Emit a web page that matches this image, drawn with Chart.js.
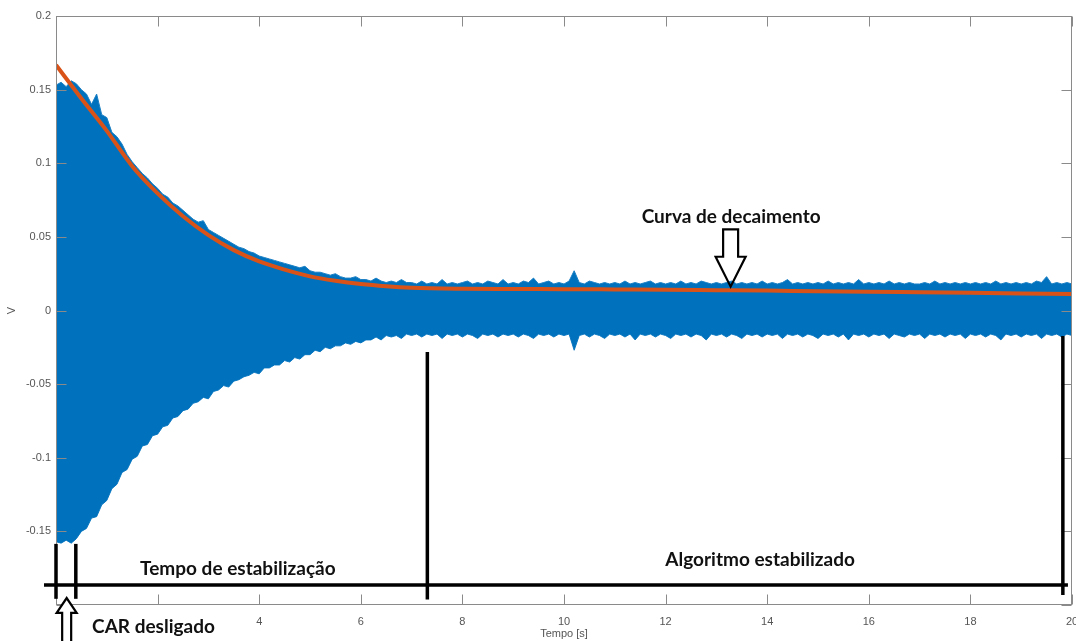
<!DOCTYPE html>
<html><head><meta charset="utf-8">
<script src="https://cdn.jsdelivr.net/npm/chart.js@4.4.1/dist/chart.umd.min.js"></script>
<style>html,body{margin:0;padding:0;background:#fff;} canvas{display:block;}</style>
</head><body>
<canvas id="c" width="1076" height="641"></canvas>
<script>
// ---- data ----
const sampleStep = 0.1; // seconds between envelope samples, t = 0 .. 20
const upperEnvelope = [
 .153,.155,.152,.156,.154,.150,.147,.140,.147,.133,
 .131,.121,.118,.113,.106,.101,.097,.093,.090,.086,
 .083,.079,.077,.073,.071,.068,.065,.062,.060,.061,
 .055,.053,.051,.049,.047,.045,.043,.042,.040,.039,
 .037,.036,.035,.034,.033,.032,.031,.030,.029,.030,
 .027,.026,.026,.025,.024,.025,.023,.022,.022,.023,
 .021,.021,.020,.022,.020,.019,.020,.019,.021,.019,
 .019,.018,.020,.018,.019,.018,.021,.018,.019,.018,
 .019,.020,.018,.019,.018,.020,.019,.018,.021,.018,
 .019,.018,.020,.019,.022,.018,.019,.020,.018,.019,
 .018,.020,.027,.019,.018,.020,.019,.018,.019,.018,
 .019,.018,.020,.018,.019,.018,.019,.020,.018,.019,
 .018,.019,.018,.020,.018,.019,.018,.020,.019,.018,
 .019,.018,.019,.020,.018,.019,.018,.019,.018,.020,
 .018,.019,.018,.019,.021,.018,.019,.018,.019,.018,
 .019,.018,.020,.018,.019,.018,.019,.018,.021,.018,
 .019,.018,.019,.018,.020,.018,.019,.018,.019,.018,
 .018,.019,.018,.020,.018,.019,.018,.019,.018,.019,
 .018,.019,.018,.019,.018,.020,.018,.019,.018,.019,
 .018,.019,.018,.020,.019,.023,.018,.019,.018,.019,
 .018
];
const lowerEnvelope = [
 -.157,-.158,-.156,-.158,-.155,-.150,-.148,-.141,-.140,-.132,
 -.129,-.121,-.118,-.110,-.108,-.101,-.099,-.092,-.091,-.085,
 -.084,-.079,-.078,-.073,-.072,-.068,-.067,-.063,-.062,-.059,
 -.060,-.055,-.054,-.051,-.052,-.048,-.047,-.045,-.044,-.042,
 -.043,-.039,-.039,-.037,-.037,-.034,-.035,-.032,-.033,-.030,
 -.030,-.027,-.028,-.025,-.026,-.024,-.024,-.022,-.023,-.021,
 -.022,-.020,-.020,-.018,-.020,-.017,-.018,-.017,-.019,-.016,
 -.017,-.016,-.018,-.016,-.017,-.016,-.019,-.016,-.017,-.016,
 -.018,-.016,-.017,-.019,-.016,-.017,-.016,-.018,-.016,-.017,
 -.016,-.018,-.016,-.017,-.019,-.016,-.017,-.016,-.018,-.016,
 -.017,-.016,-.027,-.017,-.016,-.018,-.016,-.017,-.019,-.016,
 -.017,-.016,-.018,-.016,-.020,-.016,-.017,-.016,-.018,-.016,
 -.017,-.019,-.016,-.017,-.016,-.018,-.016,-.017,-.020,-.016,
 -.017,-.016,-.018,-.016,-.017,-.019,-.016,-.017,-.016,-.018,
 -.016,-.017,-.016,-.019,-.016,-.017,-.016,-.018,-.016,-.017,
 -.019,-.016,-.017,-.016,-.018,-.016,-.020,-.016,-.017,-.016,
 -.018,-.016,-.017,-.016,-.019,-.016,-.017,-.018,-.016,-.017,
 -.016,-.019,-.016,-.017,-.016,-.018,-.016,-.017,-.016,-.019,
 -.016,-.017,-.016,-.018,-.016,-.017,-.020,-.016,-.017,-.016,
 -.018,-.016,-.017,-.016,-.019,-.016,-.017,-.016,-.018,-.016,
 -.017
];
const decayTimes  = [0,0.5,1,1.5,2,2.5,3,3.5,4,4.5,5,5.5,6,6.5,7,8,9,10,11,12,13,14,15,16,17,18,19,20];
const decayValues = [.1667,.144,.122,.098,.0795,.064,.0512,.041,.0333,.0278,.0232,.0202,.0180,.0165,.0155,.0148,.0146,.0145,.0143,.0141,.0138,.0135,.0131,.0128,.0124,.0120,.0116,.0112];
const xTickLabels = ['', '', '4', '6', '8', '10', '12', '14', '16', '18', '20'];
const yTickLabels = ['', '-0.15', '-0.1', '-0.05', '0', '0.05', '0.1', '0.15', '0.2'];
const xTitle = 'Tempo [s]';
const yTitle = 'V';

// annotation texts / shapes (in data units)
const annotTexts = [
  {text:'Curva de decaimento', t:13.29, v:0.0594, align:'center'},
  {text:'Tempo de estabilização', t:3.58, v:-0.1796, align:'center'},
  {text:'Algoritmo estabilizado', t:13.86, v:-0.1735, align:'center'},
  {text:'CAR desligado', t:0.71, v:-0.219, align:'left'}
];
const annotLines = [
  [-0.236, -0.1864, 19.92, -0.1864],
  [0.0, -0.1585, 0.0, -0.1958],
  [0.39, -0.1585, 0.39, -0.1958],
  [7.31, -0.0282, 7.31, -0.1963],
  [19.82, -0.0173, 19.82, -0.1932]
];
const downArrow = {t:13.28, top:0.0551, headStart:0.0365, tip:0.0162};
const upArrow = {t:0.21, tip:-0.1953, headStart:-0.2054, bottom:-0.226};

const toPts = (arr) => arr.map((v,i)=>({x: +(i*sampleStep).toFixed(2), y: v}));

const framePlugin = {
  id:'frame',
  afterDraw(chart){
    const {ctx, chartArea:a} = chart;
    const xs = chart.scales.x, ys = chart.scales.y;
    ctx.save();
    ctx.strokeStyle = '#8a8a8a';
    ctx.lineWidth = 1;
    const L = Math.round(a.left)+0.5, R = Math.round(a.right)-0.5, T = Math.round(a.top)+0.5, B = Math.round(a.bottom)-0.5;
    ctx.strokeRect(L, T, R-L, B-T);
    ctx.beginPath();
    xs.ticks.forEach(tk => {
      const p = Math.round(xs.getPixelForValue(tk.value))+0.5;
      ctx.moveTo(p, B); ctx.lineTo(p, B-10);
      ctx.moveTo(p, T); ctx.lineTo(p, T+10);
    });
    ys.ticks.forEach(tk => {
      const p = Math.round(ys.getPixelForValue(tk.value))+0.5;
      ctx.moveTo(L, p); ctx.lineTo(L+10, p);
      ctx.moveTo(R, p); ctx.lineTo(R-10, p);
    });
    ctx.stroke();
    ctx.restore();
  }
};

const annotPlugin = {
  id:'annot',
  afterDraw(chart){
    const ctx = chart.ctx, xs = chart.scales.x, ys = chart.scales.y;
    const X = t => xs.getPixelForValue(t), Y = v => ys.getPixelForValue(v);
    ctx.save();
    ctx.strokeStyle = '#000';
    ctx.lineWidth = 3.5;
    annotLines.forEach(s => {
      ctx.beginPath(); ctx.moveTo(X(s[0]), Y(s[1])); ctx.lineTo(X(s[2]), Y(s[3])); ctx.stroke();
    });
    // hollow arrows
    ctx.lineWidth = 2.2;
    ctx.lineJoin = 'miter';
    ctx.fillStyle = '#fff';
    let cx = X(downArrow.t);
    ctx.beginPath();
    ctx.moveTo(cx-7.5, Y(downArrow.top));
    ctx.lineTo(cx+7.5, Y(downArrow.top));
    ctx.lineTo(cx+7.5, Y(downArrow.headStart));
    ctx.lineTo(cx+15, Y(downArrow.headStart));
    ctx.lineTo(cx, Y(downArrow.tip));
    ctx.lineTo(cx-15, Y(downArrow.headStart));
    ctx.lineTo(cx-7.5, Y(downArrow.headStart));
    ctx.closePath();
    ctx.stroke();
    cx = X(upArrow.t);
    ctx.beginPath();
    ctx.moveTo(cx-4.5, Y(upArrow.bottom));
    ctx.lineTo(cx-4.5, Y(upArrow.headStart));
    ctx.lineTo(cx-10, Y(upArrow.headStart));
    ctx.lineTo(cx, Y(upArrow.tip));
    ctx.lineTo(cx+10, Y(upArrow.headStart));
    ctx.lineTo(cx+4.5, Y(upArrow.headStart));
    ctx.lineTo(cx+4.5, Y(upArrow.bottom));
    ctx.fill();
    ctx.stroke();
    // texts
    ctx.fillStyle = '#111';
    ctx.font = 'bold 19px Lato, "Open Sans", sans-serif';
    ctx.textBaseline = 'alphabetic';
    annotTexts.forEach(a => {
      ctx.textAlign = a.align;
      ctx.fillText(a.text, X(a.t), Y(a.v));
    });
    ctx.restore();
  }
};

const tickFont = {family:'"Liberation Sans", Arial, sans-serif', size:11};

new Chart(document.getElementById('c'), {
  type:'line',
  data:{
    datasets:[
      {label:'lower', data: toPts(lowerEnvelope), borderColor:'#1a7fc4', borderWidth:1, backgroundColor:'#0072BD', fill:false, pointRadius:0, tension:0, order:2},
      {label:'upper', data: toPts(upperEnvelope), borderColor:'#1a7fc4', borderWidth:1, backgroundColor:'#0072BD', fill:'-1', pointRadius:0, tension:0, order:1},
      {label:'decay', data: decayTimes.map((t,i)=>({x:t, y:decayValues[i]})), borderColor:'#D95319', borderWidth:4, fill:false, pointRadius:0, cubicInterpolationMode:'monotone', order:0}
    ]
  },
  options:{
    responsive:false,
    animation:false,
    devicePixelRatio:1,
    layout:{padding:{left:0, right:4, top:16, bottom:0}},
    plugins:{legend:{display:false}, tooltip:{enabled:false}},
    scales:{
      x:{
        type:'linear', min:0, max:20,
        grid:{display:false, drawTicks:false},
        border:{display:false},
        ticks:{stepSize:2, autoSkip:false, maxRotation:0, padding:10, color:'#555', font:tickFont,
               callback:(v,i)=>xTickLabels[i]},
        title:{display:true, text:xTitle, color:'#555', font:tickFont, padding:{top:0, bottom:0}},
        afterFit(s){ s.height = 36; s.paddingLeft = 0; s.paddingRight = 0; }
      },
      y:{
        type:'linear', min:-0.2, max:0.2,
        grid:{display:false, drawTicks:false},
        border:{display:false},
        ticks:{stepSize:0.05, autoSkip:false, padding:5, color:'#555', font:tickFont,
               callback:(v,i)=>yTickLabels[i]},
        title:{display:true, text:yTitle, color:'#555', font:tickFont, padding:{top:5, bottom:0}},
        afterFit(s){ s.width = 56; s.paddingTop = 0; s.paddingBottom = 0; }
      }
    }
  },
  plugins:[framePlugin, annotPlugin]
});
</script>
</body></html>
